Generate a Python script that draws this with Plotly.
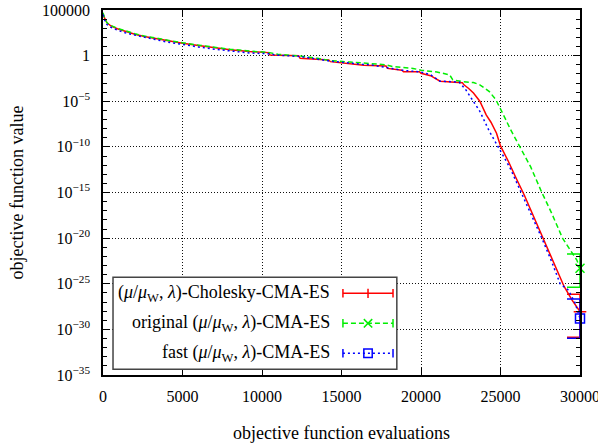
import plotly.graph_objects as go

# ---------------- data ----------------
chol_x = [0, 100, 250, 500, 900, 1400, 2000, 2600, 3200, 4000, 5000, 6000, 7000, 8000, 9200,
          10400, 10500, 12300, 12400, 14200, 14300, 16300, 16400, 17800, 17900, 18800, 18900,
          19900, 20000, 20600, 21200, 22600, 22700, 23000, 23300, 23700, 24100, 24400, 24750,
          25000, 25500, 26000, 26500, 27000, 27500, 28000, 28500, 29000, 29500, 30000]
chol_log10 = [4.6, 4.1, 3.6, 3.25, 2.95, 2.65, 2.35, 2.1, 1.9, 1.65, 1.35, 1.1, 0.85, 0.65, 0.45,
              0.33, 0.07, 0.0, -0.3, -0.48, -0.66, -1.0, -1.05, -1.14, -1.4, -1.6, -1.76,
              -1.76, -1.94, -2.2, -2.8, -2.96, -3.2, -3.6, -4.1, -5.0, -6.5, -7.3, -8.5,
              -9.9, -11.6, -13.5, -15.3, -17.3, -19.3, -21.3, -23.5, -25.3, -26.8, -28.06]

orig_x = [0, 100, 250, 500, 900, 1400, 2000, 2600, 3200, 4000, 5000, 6000, 7000, 8000, 9200,
          10400, 11000, 12400, 13500, 14300, 15500, 16300, 17800, 18200, 19500, 20000, 21000,
          21800, 22000, 22600, 23300, 23700, 24300, 24700, 25000, 25300, 25600, 26200, 26900,
          27600, 28200, 28900, 29400, 29800, 30000]
orig_log10 = [4.7, 4.1, 3.6, 3.3, 3.0, 2.7, 2.4, 2.15, 1.95, 1.7, 1.4, 1.15, 0.9, 0.7, 0.5,
              0.35, 0.15, -0.05, -0.3, -0.55, -0.7, -0.8, -1.0, -1.2, -1.4, -1.6, -1.8,
              -2.1, -2.65, -2.85, -2.95, -3.2, -3.95, -4.8, -5.8, -6.9, -8.0, -10.0, -12.2,
              -15.0, -17.2, -20.0, -21.3, -22.4, -23.3]

fast_x = [0, 100, 250, 500, 900, 1400, 2000, 2600, 3200, 4000, 5000, 6000, 7000, 8000, 9200,
          10400, 11000, 12400, 13500, 14300, 16300, 16800, 17800, 18800, 20000, 20600, 21200,
          22400, 22800, 23100, 23700, 24300, 24950, 25600, 26300, 27000, 27600, 28200, 28750,
          29270, 29690, 30000]
fast_log10 = [4.5, 3.9, 3.4, 3.1, 2.8, 2.5, 2.25, 2.0, 1.8, 1.5, 1.2, 0.95, 0.7, 0.5, 0.3,
              0.2, 0.05, -0.1, -0.35, -0.6, -0.95, -1.0, -1.3, -1.6, -1.8, -2.1, -2.8,
              -2.9, -3.7, -4.5, -6.1, -8.3, -10.3, -12.3, -15.0, -17.6, -20.0, -22.5, -25.0,
              -25.7, -27.1, -28.8]

# error bar extents at the final evaluation count (log10 of upper / lower end)
chol_err_log10 = [-26.16, -30.87]
orig_err_log10 = [-21.74, -25.39]
fast_err_log10 = [-26.67, -30.98]

series_names = ["(<i>μ</i>/<i>μ</i><sub>W</sub>, <i>λ</i>)-Cholesky-CMA-ES",
                "original (<i>μ</i>/<i>μ</i><sub>W</sub>, <i>λ</i>)-CMA-ES",
                "fast (<i>μ</i>/<i>μ</i><sub>W</sub>, <i>λ</i>)-CMA-ES"]

x_ticks = [0, 5000, 10000, 15000, 20000, 25000, 30000]
y_tick_exps = [5, 0, -5, -10, -15, -20, -25, -30, -35]
y_tick_text = ["100000", "1"] + ["10<sup>−%d</sup>" % (-e) for e in y_tick_exps[2:]]

# ---------------- figure ----------------
FONT = "Liberation Serif"
colors = ["#ff0000", "#00ee00", "#0000ff"]
dashes = ["solid", "5px,3px", "2px,3px"]
symbols = ["cross-thin", "x-thin", "square-open"]

fig = go.Figure()
all_series = [(chol_x, chol_log10, chol_err_log10),
              (orig_x, orig_log10, orig_err_log10),
              (fast_x, fast_log10, fast_err_log10)]

for i, (xs, ls, err) in enumerate(all_series):
    ys = [10 ** v for v in ls]
    fig.add_trace(go.Scatter(x=xs, y=ys, mode="lines", name=series_names[i],
                             line=dict(color=colors[i], width=1.5, dash=dashes[i]),
                             showlegend=False))
    y_end = ys[-1]
    hi, lo = 10 ** err[0], 10 ** err[1]
    fig.add_trace(go.Scatter(
        x=[xs[-1]], y=[y_end], mode="markers", showlegend=False, cliponaxis=False,
        marker=dict(symbol=symbols[i], size=9, color=colors[i],
                    line=dict(color=colors[i], width=1.5)),
        error_y=dict(type="data", symmetric=False, array=[hi - y_end],
                     arrayminus=[y_end - lo], color=colors[i], thickness=1.5, width=13)))

# ---------- legend drawn in gnuplot style (text right, sample right) ----------
shapes = []
shapes.append(dict(type="rect", xref="paper", yref="paper", x0=0.021, x1=0.616,
                   y0=0.016, y1=0.268, fillcolor="white",
                   line=dict(color="#444444", width=1.5), layer="above"))
annotations = []
row_y = [0.2238, 0.1416, 0.0595]
sx0, sx1, sxm = 0.503, 0.608, 0.5556
dx, dy = 4.2 / 477, 4.2 / 365
for i in range(3):
    yy = row_y[i]
    annotations.append(dict(xref="paper", yref="paper", x=0.4795, y=yy, xanchor="right",
                            yanchor="middle", text=series_names[i], showarrow=False,
                            font=dict(family=FONT, size=18, color="black")))
    ln = dict(color=colors[i], width=1.5)
    shapes.append(dict(type="line", xref="paper", yref="paper", x0=sx0, x1=sx1, y0=yy, y1=yy,
                       line=dict(color=colors[i], width=1.5, dash=dashes[i]), layer="above"))
    for cx in (sx0, sx1):
        shapes.append(dict(type="line", xref="paper", yref="paper", x0=cx, x1=cx,
                           y0=yy - dy, y1=yy + dy, line=ln, layer="above"))
    if i == 0:
        shapes.append(dict(type="line", xref="paper", yref="paper", x0=sxm, x1=sxm,
                           y0=yy - dy * 1.1, y1=yy + dy * 1.1, line=ln, layer="above"))
    elif i == 1:
        shapes.append(dict(type="line", xref="paper", yref="paper", x0=sxm - dx, x1=sxm + dx,
                           y0=yy - dy, y1=yy + dy, line=ln, layer="above"))
        shapes.append(dict(type="line", xref="paper", yref="paper", x0=sxm - dx, x1=sxm + dx,
                           y0=yy + dy, y1=yy - dy, line=ln, layer="above"))
    else:
        shapes.append(dict(type="rect", xref="paper", yref="paper", x0=sxm - dx, x1=sxm + dx,
                           y0=yy - dy, y1=yy + dy, line=ln, fillcolor="rgba(0,0,0,0)",
                           layer="above"))

axis_common = dict(showline=True, linecolor="black", linewidth=1.5, mirror="ticks",
                   ticks="inside", tickcolor="black", tickwidth=1, zeroline=False,
                   showgrid=True, gridcolor="#111111", gridwidth=1, griddash="1px,2px",
                   automargin=False, ticklabeloverflow="allow",
                   tickfont=dict(family=FONT, size=16, color="black"))

fig.update_layout(
    width=598, height=443,
    margin=dict(l=103, r=18, t=10, b=68),
    paper_bgcolor="white", plot_bgcolor="white",
    font=dict(family=FONT, size=16, color="black"),
    shapes=shapes, annotations=annotations, showlegend=False,
    xaxis=dict(range=[0, 30000], tickmode="array", tickvals=x_ticks,
               ticktext=[str(v) for v in x_ticks], ticklen=7, ticklabelstandoff=6,
               title=dict(text="objective function evaluations", standoff=22,
                          font=dict(family=FONT, size=18, color="black")),
               **axis_common),
    yaxis=dict(type="log", range=[-35, 5], tickmode="array",
               tickvals=[10 ** e for e in y_tick_exps], ticktext=y_tick_text,
               ticklen=7, ticklabelstandoff=8,
               minor=dict(tickmode="array",
                          tickvals=[10 ** e for e in range(-35, 6) if e % 5 != 0],
                          ticks="inside", ticklen=4, tickcolor="black", showgrid=False),
               title=dict(text="objective function value", standoff=14,
                          font=dict(family=FONT, size=18, color="black")),
               **axis_common),
)

# remove the default 8px page margin so the figure fills the window exactly
fig.write_html("out.html", config={"displayModeBar": False},
               post_script="document.body.style.margin='0';")
